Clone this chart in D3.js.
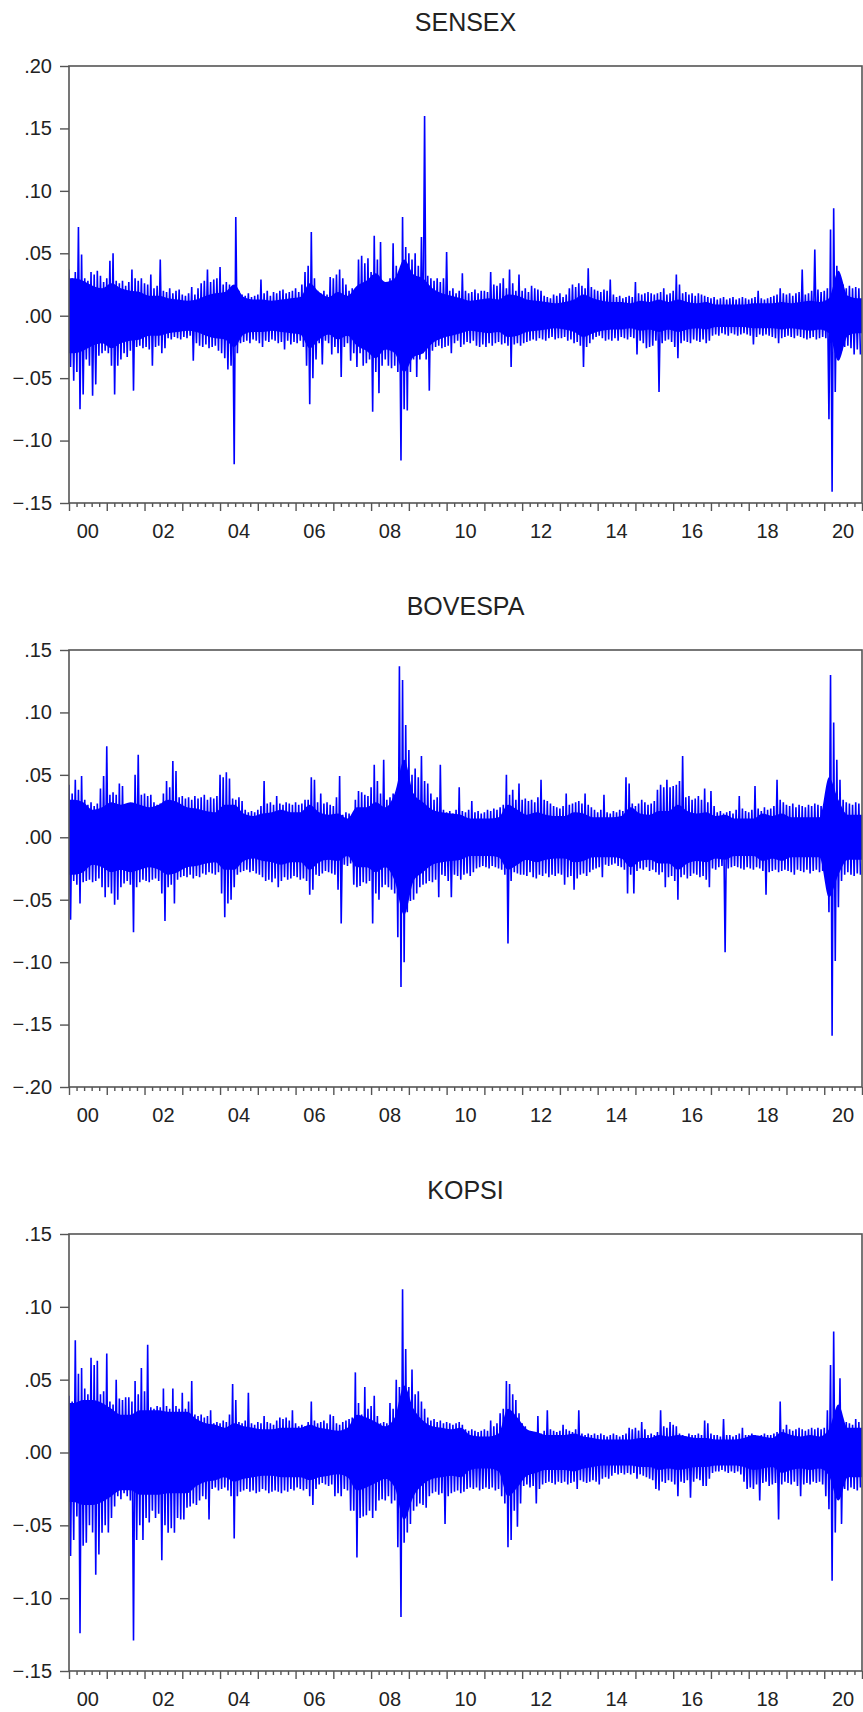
<!DOCTYPE html>
<html lang="en">
<head>
<meta charset="utf-8">
<style>
body {
  margin: 0;
  background: #fff;
  font-family: "Liberation Sans", Arial, Helvetica, sans-serif;
}
.frame {
  fill: none;
  stroke: #555;
  stroke-width: 1.6;
}
.tick line {
  stroke: #555;
  stroke-width: 1.4;
}
.tick text, .ylab {
  fill: #222;
  font-size: 20px;
}
.title {
  fill: #222;
  font-size: 25px;
}
.ret {
  fill: none;
  stroke: #0000ff;
  stroke-width: 1.6;
}
.core {
  fill: #0000ff;
  stroke: none;
}
</style>
</head>
<body>
<script src="https://cdnjs.cloudflare.com/ajax/libs/d3/7.8.5/d3.min.js"></script>
<script>

// monthly high / low of the daily returns, Jan 2000 .. Dec 2020
var sensexHi = [
  0.037, 0.030, 0.035, 0.071, 0.049, 0.030, 0.028, 0.035, 0.033, 0.036, 0.032, 0.027,
  0.030, 0.044, 0.050, 0.028, 0.026, 0.028, 0.024, 0.027, 0.037, 0.030, 0.028, 0.030,
  0.026, 0.025, 0.033, 0.022, 0.024, 0.045, 0.020, 0.019, 0.022, 0.018, 0.020, 0.021,
  0.017, 0.016, 0.018, 0.023, 0.017, 0.022, 0.026, 0.028, 0.037, 0.027, 0.029, 0.030,
  0.039, 0.025, 0.027, 0.025, 0.024, 0.079, 0.020, 0.017, 0.016, 0.018, 0.015, 0.016,
  0.017, 0.029, 0.018, 0.020, 0.016, 0.019, 0.018, 0.020, 0.021, 0.018, 0.019, 0.020,
  0.022, 0.019, 0.025, 0.035, 0.040, 0.067, 0.030, 0.020, 0.018, 0.020, 0.017, 0.031,
  0.030, 0.033, 0.037, 0.030, 0.025, 0.020, 0.022, 0.020, 0.045, 0.048, 0.042, 0.046,
  0.035, 0.064, 0.045, 0.059, 0.027, 0.024, 0.030, 0.058, 0.040, 0.035, 0.079, 0.055,
  0.050, 0.045, 0.050, 0.040, 0.063, 0.160, 0.032, 0.030, 0.028, 0.030, 0.027, 0.030,
  0.051, 0.020, 0.022, 0.018, 0.020, 0.034, 0.020, 0.018, 0.019, 0.021, 0.018, 0.020,
  0.020, 0.019, 0.035, 0.025, 0.024, 0.026, 0.030, 0.022, 0.037, 0.026, 0.020, 0.033,
  0.020, 0.022, 0.019, 0.024, 0.022, 0.021, 0.020, 0.016, 0.015, 0.014, 0.017, 0.016,
  0.018, 0.015, 0.017, 0.022, 0.025, 0.023, 0.026, 0.024, 0.022, 0.038, 0.023, 0.021,
  0.020, 0.019, 0.021, 0.020, 0.029, 0.017, 0.015, 0.016, 0.014, 0.015, 0.016, 0.015,
  0.027, 0.018, 0.017, 0.018, 0.019, 0.018, 0.017, 0.018, 0.019, 0.022, 0.017, 0.018,
  0.020, 0.033, 0.025, 0.018, 0.019, 0.017, 0.018, 0.016, 0.018, 0.017, 0.016, 0.015,
  0.014, 0.015, 0.013, 0.014, 0.015, 0.013, 0.014, 0.015, 0.013, 0.014, 0.015, 0.014,
  0.013, 0.014, 0.015, 0.020, 0.014, 0.013, 0.014, 0.015, 0.016, 0.017, 0.022, 0.018,
  0.017, 0.018, 0.016, 0.018, 0.019, 0.037, 0.017, 0.018, 0.020, 0.053, 0.021, 0.019,
  0.020, 0.022, 0.069, 0.086, 0.040, 0.032, 0.025, 0.022, 0.024, 0.022, 0.023, 0.022
];
var sensexLo = [
  -0.041, -0.052, -0.045, -0.075, -0.063, -0.035, -0.040, -0.064, -0.055, -0.032, -0.030, -0.028,
  -0.030, -0.040, -0.063, -0.040, -0.035, -0.030, -0.033, -0.028, -0.060, -0.025, -0.024, -0.026,
  -0.025, -0.027, -0.040, -0.025, -0.024, -0.030, -0.026, -0.018, -0.019, -0.017, -0.018, -0.019,
  -0.017, -0.018, -0.016, -0.036, -0.022, -0.024, -0.025, -0.023, -0.026, -0.025, -0.024, -0.028,
  -0.030, -0.034, -0.043, -0.040, -0.119, -0.030, -0.022, -0.021, -0.020, -0.022, -0.019, -0.020,
  -0.022, -0.025, -0.020, -0.021, -0.019, -0.020, -0.022, -0.021, -0.027, -0.020, -0.023, -0.021,
  -0.022, -0.020, -0.025, -0.040, -0.071, -0.050, -0.035, -0.022, -0.039, -0.020, -0.022, -0.031,
  -0.025, -0.030, -0.049, -0.025, -0.022, -0.036, -0.030, -0.041, -0.030, -0.040, -0.038, -0.035,
  -0.077, -0.045, -0.062, -0.040, -0.035, -0.040, -0.042, -0.040, -0.045, -0.116, -0.075, -0.076,
  -0.045, -0.035, -0.049, -0.035, -0.030, -0.035, -0.060, -0.028, -0.025, -0.024, -0.026, -0.025,
  -0.024, -0.030, -0.022, -0.020, -0.025, -0.023, -0.021, -0.022, -0.020, -0.024, -0.025, -0.023,
  -0.025, -0.022, -0.024, -0.022, -0.021, -0.023, -0.022, -0.024, -0.041, -0.023, -0.022, -0.024,
  -0.022, -0.021, -0.020, -0.019, -0.020, -0.018, -0.019, -0.020, -0.018, -0.017, -0.019, -0.018,
  -0.018, -0.017, -0.020, -0.019, -0.022, -0.021, -0.024, -0.041, -0.025, -0.022, -0.019, -0.017,
  -0.016, -0.018, -0.020, -0.019, -0.020, -0.018, -0.020, -0.017, -0.018, -0.019, -0.017, -0.018,
  -0.031, -0.020, -0.022, -0.026, -0.025, -0.024, -0.020, -0.061, -0.022, -0.020, -0.019, -0.021,
  -0.025, -0.034, -0.022, -0.020, -0.021, -0.022, -0.019, -0.020, -0.021, -0.019, -0.022, -0.020,
  -0.016, -0.015, -0.016, -0.014, -0.015, -0.016, -0.014, -0.015, -0.016, -0.015, -0.014, -0.015,
  -0.016, -0.023, -0.017, -0.015, -0.016, -0.015, -0.016, -0.017, -0.018, -0.022, -0.018, -0.017,
  -0.016, -0.017, -0.018, -0.016, -0.017, -0.018, -0.019, -0.018, -0.017, -0.019, -0.018, -0.017,
  -0.018, -0.083, -0.141, -0.061, -0.035, -0.028, -0.025, -0.024, -0.026, -0.031, -0.027, -0.031
];
// half-width of the solid core band, per quarter
var sensexCore = [
  0.030, 0.028, 0.024, 0.022,  0.026, 0.022, 0.020, 0.019,  0.016, 0.016, 0.014, 0.013,
  0.012, 0.013, 0.016, 0.018,  0.019, 0.025, 0.015, 0.013,  0.013, 0.012, 0.013, 0.014,
  0.015, 0.026, 0.019, 0.015,  0.019, 0.016, 0.024, 0.028,  0.034, 0.027, 0.030, 0.045,
  0.033, 0.030, 0.022, 0.018,  0.016, 0.014, 0.012, 0.013,  0.014, 0.013, 0.017, 0.016,
  0.013, 0.012, 0.011, 0.010,  0.011, 0.013, 0.017, 0.014,  0.012, 0.011, 0.011, 0.010,
  0.012, 0.011, 0.013, 0.011,  0.013, 0.011, 0.010, 0.011,  0.009, 0.009, 0.009, 0.009,
  0.010, 0.010, 0.010, 0.011,  0.010, 0.011, 0.012, 0.011,  0.014, 0.036, 0.016, 0.014
];

var bovespaHi = [
  0.042, 0.035, 0.046, 0.038, 0.049, 0.030, 0.026, 0.028, 0.025, 0.027, 0.039, 0.049,
  0.073, 0.034, 0.036, 0.034, 0.043, 0.041, 0.025, 0.027, 0.024, 0.050, 0.066, 0.034,
  0.035, 0.033, 0.034, 0.028, 0.026, 0.027, 0.035, 0.045, 0.040, 0.061, 0.053, 0.032,
  0.033, 0.031, 0.032, 0.030, 0.033, 0.031, 0.032, 0.034, 0.030, 0.032, 0.031, 0.033,
  0.050, 0.048, 0.052, 0.047, 0.031, 0.030, 0.032, 0.029, 0.022, 0.020, 0.021, 0.020,
  0.022, 0.025, 0.045, 0.027, 0.028, 0.026, 0.033, 0.027, 0.026, 0.028, 0.027, 0.026,
  0.028, 0.026, 0.027, 0.030, 0.030, 0.048, 0.046, 0.028, 0.035, 0.027, 0.028, 0.026,
  0.025, 0.032, 0.049, 0.018, 0.020, 0.019, 0.018, 0.030, 0.037, 0.036, 0.034, 0.033,
  0.040, 0.058, 0.045, 0.035, 0.062, 0.030, 0.032, 0.035, 0.035, 0.137, 0.126, 0.090,
  0.070, 0.050, 0.055, 0.048, 0.065, 0.045, 0.043, 0.035, 0.030, 0.032, 0.058, 0.022,
  0.020, 0.021, 0.019, 0.022, 0.040, 0.021, 0.020, 0.022, 0.029, 0.020, 0.021, 0.019,
  0.020, 0.022, 0.021, 0.023, 0.022, 0.024, 0.026, 0.050, 0.034, 0.038, 0.030, 0.043,
  0.030, 0.031, 0.029, 0.030, 0.028, 0.032, 0.046, 0.030, 0.029, 0.027, 0.025, 0.024,
  0.023, 0.025, 0.035, 0.026, 0.027, 0.028, 0.029, 0.027, 0.035, 0.026, 0.024, 0.022,
  0.020, 0.022, 0.034, 0.020, 0.019, 0.021, 0.020, 0.022, 0.021, 0.048, 0.043, 0.027,
  0.025, 0.027, 0.030, 0.028, 0.026, 0.027, 0.029, 0.038, 0.042, 0.040, 0.046, 0.040,
  0.041, 0.042, 0.045, 0.065, 0.032, 0.033, 0.030, 0.031, 0.033, 0.030, 0.039, 0.028,
  0.037, 0.025, 0.020, 0.021, 0.019, 0.020, 0.021, 0.019, 0.022, 0.033, 0.023, 0.021,
  0.020, 0.022, 0.041, 0.023, 0.021, 0.024, 0.022, 0.023, 0.025, 0.046, 0.030, 0.028,
  0.026, 0.025, 0.027, 0.024, 0.026, 0.025, 0.024, 0.026, 0.025, 0.027, 0.026, 0.025,
  0.024, 0.026, 0.130, 0.092, 0.062, 0.046, 0.030, 0.028, 0.027, 0.026, 0.028, 0.027
];
var bovespaLo = [
  -0.066, -0.035, -0.038, -0.053, -0.036, -0.035, -0.034, -0.036, -0.035, -0.033, -0.040, -0.048,
  -0.040, -0.045, -0.054, -0.050, -0.040, -0.037, -0.035, -0.038, -0.076, -0.040, -0.036, -0.034,
  -0.035, -0.036, -0.034, -0.033, -0.035, -0.045, -0.067, -0.040, -0.038, -0.053, -0.034, -0.032,
  -0.031, -0.032, -0.030, -0.033, -0.031, -0.032, -0.029, -0.030, -0.028, -0.029, -0.030, -0.028,
  -0.045, -0.064, -0.053, -0.050, -0.040, -0.030, -0.028, -0.027, -0.026, -0.028, -0.027, -0.029,
  -0.030, -0.032, -0.035, -0.034, -0.036, -0.033, -0.040, -0.035, -0.032, -0.034, -0.033, -0.031,
  -0.032, -0.034, -0.033, -0.035, -0.046, -0.042, -0.030, -0.031, -0.029, -0.027, -0.028, -0.029,
  -0.030, -0.042, -0.069, -0.022, -0.023, -0.021, -0.038, -0.040, -0.039, -0.036, -0.037, -0.035,
  -0.069, -0.045, -0.050, -0.040, -0.038, -0.040, -0.042, -0.045, -0.080, -0.120, -0.100, -0.060,
  -0.051, -0.050, -0.045, -0.040, -0.038, -0.037, -0.035, -0.036, -0.034, -0.048, -0.030, -0.031,
  -0.035, -0.048, -0.030, -0.031, -0.034, -0.030, -0.029, -0.031, -0.028, -0.025, -0.024, -0.023,
  -0.024, -0.025, -0.023, -0.024, -0.025, -0.026, -0.030, -0.085, -0.035, -0.028, -0.029, -0.030,
  -0.030, -0.031, -0.028, -0.032, -0.033, -0.030, -0.031, -0.029, -0.032, -0.030, -0.031, -0.029,
  -0.030, -0.038, -0.032, -0.031, -0.042, -0.033, -0.030, -0.029, -0.031, -0.028, -0.026, -0.025,
  -0.024, -0.032, -0.022, -0.023, -0.022, -0.021, -0.023, -0.024, -0.026, -0.045, -0.030, -0.045,
  -0.027, -0.025, -0.026, -0.024, -0.027, -0.026, -0.028, -0.030, -0.028, -0.040, -0.032, -0.031,
  -0.035, -0.050, -0.032, -0.030, -0.033, -0.031, -0.029, -0.030, -0.032, -0.031, -0.034, -0.040,
  -0.025, -0.026, -0.024, -0.023, -0.092, -0.025, -0.024, -0.023, -0.024, -0.025, -0.026, -0.024,
  -0.025, -0.026, -0.024, -0.025, -0.027, -0.046, -0.028, -0.027, -0.026, -0.028, -0.027, -0.026,
  -0.027, -0.028, -0.030, -0.026, -0.027, -0.028, -0.026, -0.029, -0.027, -0.026, -0.028, -0.027,
  -0.030, -0.060, -0.159, -0.099, -0.056, -0.035, -0.030, -0.028, -0.030, -0.031, -0.029, -0.030
];
var bovespaCore = [
  0.030, 0.028, 0.022, 0.024,  0.028, 0.026, 0.028, 0.026,  0.024, 0.026, 0.030, 0.028,
  0.024, 0.023, 0.021, 0.020,  0.026, 0.026, 0.019, 0.017,  0.019, 0.020, 0.022, 0.020,
  0.020, 0.026, 0.020, 0.018,  0.019, 0.015, 0.024, 0.024,  0.028, 0.024, 0.035, 0.062,
  0.035, 0.028, 0.022, 0.020,  0.019, 0.018, 0.015, 0.015,  0.015, 0.016, 0.026, 0.022,
  0.018, 0.020, 0.018, 0.017,  0.017, 0.020, 0.019, 0.016,  0.016, 0.016, 0.017, 0.024,
  0.019, 0.018, 0.021, 0.021,  0.026, 0.021, 0.019, 0.020,  0.017, 0.018, 0.015, 0.015,
  0.015, 0.019, 0.017, 0.019,  0.016, 0.016, 0.016, 0.016,  0.048, 0.030, 0.018, 0.018
];

var kopsiHi = [
  0.039, 0.035, 0.077, 0.054, 0.058, 0.044, 0.040, 0.065, 0.060, 0.063, 0.040, 0.042,
  0.068, 0.035, 0.033, 0.050, 0.037, 0.036, 0.038, 0.038, 0.035, 0.049, 0.040, 0.058,
  0.042, 0.074, 0.031, 0.030, 0.032, 0.031, 0.044, 0.032, 0.030, 0.044, 0.032, 0.030,
  0.041, 0.030, 0.035, 0.049, 0.026, 0.025, 0.026, 0.024, 0.025, 0.029, 0.020, 0.021,
  0.020, 0.022, 0.021, 0.026, 0.047, 0.036, 0.021, 0.020, 0.022, 0.041, 0.020, 0.019,
  0.021, 0.020, 0.025, 0.021, 0.020, 0.019, 0.022, 0.024, 0.023, 0.024, 0.022, 0.029,
  0.020, 0.018, 0.019, 0.018, 0.021, 0.035, 0.022, 0.020, 0.021, 0.022, 0.020, 0.026,
  0.025, 0.020, 0.019, 0.021, 0.022, 0.023, 0.024, 0.055, 0.034, 0.026, 0.045, 0.030,
  0.032, 0.039, 0.025, 0.020, 0.021, 0.020, 0.034, 0.030, 0.050, 0.045, 0.112, 0.071,
  0.045, 0.057, 0.040, 0.042, 0.035, 0.030, 0.024, 0.022, 0.023, 0.021, 0.022, 0.020,
  0.021, 0.020, 0.019, 0.020, 0.021, 0.019, 0.016, 0.015, 0.016, 0.015, 0.014, 0.015,
  0.016, 0.015, 0.022, 0.018, 0.020, 0.027, 0.030, 0.049, 0.047, 0.040, 0.036, 0.027,
  0.020, 0.018, 0.013, 0.012, 0.014, 0.025, 0.013, 0.015, 0.029, 0.016, 0.015, 0.014,
  0.015, 0.019, 0.016, 0.015, 0.014, 0.016, 0.029, 0.013, 0.012, 0.013, 0.012, 0.013,
  0.012, 0.013, 0.012, 0.011, 0.012, 0.013, 0.012, 0.011, 0.012, 0.013, 0.017, 0.016,
  0.017, 0.015, 0.021, 0.016, 0.012, 0.013, 0.012, 0.014, 0.029, 0.018, 0.017, 0.021,
  0.019, 0.018, 0.013, 0.012, 0.011, 0.013, 0.012, 0.012, 0.013, 0.012, 0.022, 0.020,
  0.013, 0.012, 0.012, 0.011, 0.023, 0.012, 0.012, 0.011, 0.012, 0.013, 0.017, 0.012,
  0.012, 0.013, 0.012, 0.011, 0.012, 0.013, 0.012, 0.012, 0.013, 0.014, 0.035, 0.016,
  0.019, 0.016, 0.015, 0.016, 0.017, 0.016, 0.015, 0.016, 0.017, 0.016, 0.017, 0.016,
  0.017, 0.029, 0.060, 0.083, 0.029, 0.051, 0.020, 0.021, 0.020, 0.019, 0.023, 0.021
];
var kopsiLo = [
  -0.071, -0.060, -0.044, -0.124, -0.064, -0.062, -0.050, -0.055, -0.084, -0.070, -0.055, -0.050,
  -0.055, -0.045, -0.037, -0.030, -0.032, -0.028, -0.030, -0.033, -0.129, -0.060, -0.050, -0.060,
  -0.045, -0.048, -0.040, -0.045, -0.042, -0.074, -0.050, -0.055, -0.052, -0.055, -0.045, -0.046,
  -0.046, -0.038, -0.037, -0.035, -0.036, -0.033, -0.030, -0.032, -0.046, -0.025, -0.024, -0.026,
  -0.025, -0.024, -0.026, -0.030, -0.059, -0.030, -0.027, -0.026, -0.025, -0.027, -0.026, -0.028,
  -0.027, -0.025, -0.026, -0.028, -0.027, -0.026, -0.027, -0.028, -0.026, -0.027, -0.025, -0.026,
  -0.024, -0.025, -0.026, -0.025, -0.030, -0.036, -0.025, -0.022, -0.021, -0.022, -0.023, -0.022,
  -0.030, -0.028, -0.030, -0.025, -0.026, -0.040, -0.040, -0.072, -0.045, -0.044, -0.043, -0.040,
  -0.045, -0.040, -0.033, -0.032, -0.033, -0.030, -0.035, -0.033, -0.065, -0.113, -0.062, -0.055,
  -0.049, -0.040, -0.037, -0.035, -0.036, -0.038, -0.030, -0.028, -0.027, -0.029, -0.028, -0.049,
  -0.030, -0.028, -0.027, -0.026, -0.028, -0.027, -0.025, -0.024, -0.025, -0.024, -0.026, -0.025,
  -0.024, -0.025, -0.024, -0.026, -0.025, -0.030, -0.035, -0.065, -0.060, -0.040, -0.051, -0.035,
  -0.023, -0.022, -0.024, -0.023, -0.035, -0.025, -0.022, -0.021, -0.020, -0.021, -0.022, -0.020,
  -0.021, -0.020, -0.022, -0.021, -0.020, -0.025, -0.019, -0.020, -0.021, -0.020, -0.019, -0.020,
  -0.022, -0.018, -0.017, -0.018, -0.016, -0.014, -0.015, -0.014, -0.015, -0.014, -0.015, -0.014,
  -0.018, -0.015, -0.016, -0.017, -0.018, -0.019, -0.025, -0.026, -0.020, -0.021, -0.019, -0.020,
  -0.022, -0.030, -0.020, -0.021, -0.019, -0.031, -0.020, -0.018, -0.019, -0.023, -0.023, -0.018,
  -0.014, -0.013, -0.013, -0.012, -0.013, -0.014, -0.013, -0.014, -0.013, -0.015, -0.020, -0.025,
  -0.024, -0.025, -0.022, -0.033, -0.021, -0.020, -0.023, -0.022, -0.021, -0.046, -0.022, -0.020,
  -0.021, -0.022, -0.020, -0.023, -0.030, -0.022, -0.021, -0.022, -0.020, -0.021, -0.020, -0.022,
  -0.030, -0.039, -0.088, -0.055, -0.030, -0.049, -0.025, -0.026, -0.024, -0.025, -0.026, -0.024
];
var kopsiCore = [
  0.034, 0.036, 0.036, 0.034,  0.030, 0.026, 0.026, 0.029,  0.029, 0.029, 0.028, 0.028,
  0.028, 0.023, 0.020, 0.019,  0.017, 0.020, 0.018, 0.017,  0.016, 0.016, 0.017, 0.017,
  0.017, 0.019, 0.017, 0.016,  0.015, 0.017, 0.026, 0.024,  0.021, 0.018, 0.024, 0.046,
  0.030, 0.022, 0.018, 0.017,  0.016, 0.017, 0.012, 0.011,  0.011, 0.013, 0.030, 0.024,
  0.016, 0.014, 0.012, 0.012,  0.012, 0.013, 0.011, 0.010,  0.009, 0.009, 0.009, 0.009,
  0.010, 0.010, 0.012, 0.011,  0.012, 0.011, 0.010, 0.010,  0.009, 0.009, 0.009, 0.010,
  0.012, 0.011, 0.010, 0.014,  0.012, 0.011, 0.012, 0.011,  0.016, 0.033, 0.017, 0.017
];

var titles = ["SENSEX", "BOVESPA", "KOPSI"];
var yDomains = [[-0.15, 0.20], [-0.20, 0.15], [-0.15, 0.15]];
var yTicks = [
  [-0.15, -0.10, -0.05, 0.00, 0.05, 0.10, 0.15, 0.20],
  [-0.20, -0.15, -0.10, -0.05, 0.00, 0.05, 0.10, 0.15],
  [-0.15, -0.10, -0.05, 0.00, 0.05, 0.10, 0.15]
];
var labelYears = [2000, 2002, 2004, 2006, 2008, 2010, 2012, 2014, 2016, 2018, 2020];
var yearLabels = ["00", "02", "04", "06", "08", "10", "12", "14", "16", "18", "20"];

var width = 863,
    height = 1712;

var left = 69, right = 862,
    plotH = 437, firstTop = 66, step = 584;

var x = d3.scaleLinear().domain([2000, 2021]).range([left, right]);

var fmt = function(v) { return d3.format(".2f")(v).replace("0.", "."); };

var svg = d3.select("body").append("svg")
    .attr("width", width)
    .attr("height", height);

var series = [
  [sensexHi, sensexLo, sensexCore],
  [bovespaHi, bovespaLo, bovespaCore],
  [kopsiHi, kopsiLo, kopsiCore]
];

series.forEach(function(s, i) {
  var top = firstTop + i * step;
  var y = d3.scaleLinear().domain(yDomains[i]).range([top + plotH, top]);
  var g = svg.append("g");

  g.append("clipPath").attr("id", "clip" + i)
    .append("rect").attr("x", left).attr("y", top)
    .attr("width", right - left).attr("height", plotH);

  var plot = g.append("g").attr("clip-path", "url(#clip" + i + ")");

  // solid core band, one point per quarter
  var core = s[2].map(function(c, q) { return [2000 + (q + 0.5) / 4, c]; });
  core.unshift([2000, s[2][0]]);
  core.push([2021, s[2][s[2].length - 1]]);

  plot.append("path")
      .datum(core)
      .attr("class", "core")
      .attr("d", d3.area()
        .curve(d3.curveMonotoneX)
        .x(function(d) { return x(d[0]); })
        .y0(function(d) { return y(-d[1]); })
        .y1(function(d) { return y(d[1]); }));

  // zigzag through each month's high then low
  var pts = [];
  s[0].forEach(function(hi, m) {
    pts.push([2000 + m / 12, hi]);
    pts.push([2000 + (m + 0.5) / 12, s[1][m]]);
  });

  plot.append("path")
      .datum(pts)
      .attr("class", "ret")
      .attr("d", d3.line()
        .x(function(d) { return x(d[0]); })
        .y(function(d) { return y(d[1]); }));

  g.append("rect")
      .attr("class", "frame")
      .attr("x", left).attr("y", top)
      .attr("width", right - left).attr("height", plotH);

  var ya = g.append("g")
      .attr("transform", "translate(" + left + ",0)")
      .call(d3.axisLeft(y).tickValues(yTicks[i]).tickSize(9).tickPadding(8).tickFormat(fmt));
  ya.select(".domain").remove();

  var bottom = top + plotH;
  var minor = d3.range(0, 106).map(function(k) { return 2000 + k * 0.2; })
      .filter(function(v) { return Math.abs(v - Math.round(v)) > 0.01; });
  var major = d3.range(2000, 2022);

  var xa1 = g.append("g")
      .attr("transform", "translate(0," + bottom + ")")
      .call(d3.axisBottom(x).tickValues(minor).tickSize(4).tickFormat(""));
  xa1.select(".domain").remove();
  var xa2 = g.append("g")
      .attr("transform", "translate(0," + bottom + ")")
      .call(d3.axisBottom(x).tickValues(major).tickSize(8).tickFormat(""));
  xa2.select(".domain").remove();

  g.selectAll(".ylab")
      .data(labelYears)
      .enter().append("text")
      .attr("class", "ylab")
      .attr("x", function(d) { return x(d + 0.5); })
      .attr("y", bottom + 35)
      .attr("text-anchor", "middle")
      .text(function(d, k) { return yearLabels[k]; });

  g.append("text")
      .attr("class", "title")
      .attr("x", (left + right) / 2)
      .attr("y", top - 35)
      .attr("text-anchor", "middle")
      .text(titles[i]);
});

</script>
</body>
</html>
